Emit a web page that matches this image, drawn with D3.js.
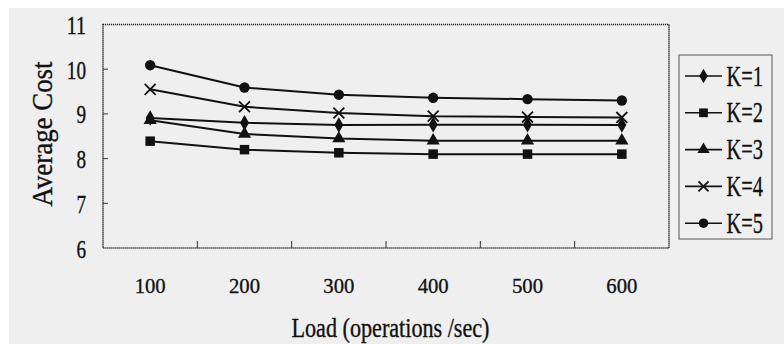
<!DOCTYPE html>
<html>
<head>
<meta charset="utf-8">
<script src="https://cdn.jsdelivr.net/npm/d3@7"></script>
<style>
html,body{margin:0;padding:0;background:#fff;}
svg{display:block;}
</style>
</head>
<body>
<svg id="chart" width="784" height="344" font-family="Liberation Serif"></svg>
<script>
const categories = ["100", "200", "300", "400", "500", "600"];
const seriesNames = ["K=1", "K=2", "K=3", "K=4", "K=5"];
const seriesMarkers = ["diamond", "square", "triangle", "cross", "circle"];
const k1 = [8.91, 8.80, 8.75, 8.76, 8.76, 8.75];
const k2 = [8.39, 8.20, 8.13, 8.10, 8.10, 8.10];
const k3 = [8.86, 8.55, 8.45, 8.40, 8.40, 8.40];
const k4 = [9.55, 9.16, 9.02, 8.95, 8.93, 8.92];
const k5 = [10.09, 9.59, 9.43, 9.36, 9.33, 9.30];
const yTicks = [6, 7, 8, 9, 10, 11];
const seriesValues = [k1, k2, k3, k4, k5];

const FONT = "Liberation Serif";
const TS = 0.35; // slight text stroke for scanned weight
const svg = d3.select("#chart");
svg.append("rect").attr("width", 784).attr("height", 344).attr("fill", "#ffffff");
svg.append("rect").attr("x", 9).attr("y", 8).attr("width", 775).attr("height", 336).attr("fill", "#efefef");

const L = 103, R = 669, T = 24.5, B = 248;
const x = d3.scaleBand().domain(categories).range([L, R]);
const y = d3.scaleLinear().domain([6, 11]).range([B, T]);

svg.append("rect").attr("x", L).attr("y", T).attr("width", R - L).attr("height", B - T)
  .attr("fill", "none").attr("stroke", "#222").attr("stroke-width", 1.6)
  .attr("stroke-dasharray", "1.2,0.8");

const xb = categories.slice(1).map(c => x(c));
svg.append("g").selectAll("line").data(xb).join("line")
  .attr("x1", d => d).attr("x2", d => d).attr("y1", B).attr("y2", B - 7)
  .attr("stroke", "#333").attr("stroke-width", 1);

svg.append("g").selectAll("text").data(categories).join("text")
  .attr("font-family", FONT)
  .attr("x", d => x(d) + x.bandwidth() / 2).attr("y", 293.3)
  .attr("text-anchor", "middle").attr("font-size", 22).attr("fill", "#111")
  .attr("stroke", "#111").attr("stroke-width", TS)
  .attr("textLength", 31).attr("lengthAdjust", "spacingAndGlyphs")
  .text(d => d);

svg.append("g").selectAll("line").data(yTicks.slice(1, -1)).join("line")
  .attr("x1", L).attr("x2", L + 5).attr("y1", d => y(d)).attr("y2", d => y(d))
  .attr("stroke", "#333").attr("stroke-width", 1);
svg.append("g").selectAll("text").data(yTicks).join("text")
  .attr("font-family", FONT)
  .attr("x", 86).attr("y", d => y(d) + 9.5)
  .attr("text-anchor", "end").attr("font-size", 25).attr("fill", "#111")
  .attr("stroke", "#111").attr("stroke-width", TS)
  .attr("textLength", d => String(d).length * 9.6).attr("lengthAdjust", "spacingAndGlyphs")
  .text(d => d);

svg.append("text").attr("font-family", FONT).attr("fill", "#111")
  .attr("stroke", "#111").attr("stroke-width", TS)
  .attr("transform", "translate(52,134) rotate(-90)")
  .attr("text-anchor", "middle").attr("font-size", 29)
  .attr("textLength", 145).attr("lengthAdjust", "spacingAndGlyphs")
  .text("Average Cost");
svg.append("text").attr("font-family", FONT).attr("fill", "#111")
  .attr("stroke", "#111").attr("stroke-width", TS)
  .attr("x", 390.5).attr("y", 336.7)
  .attr("text-anchor", "middle").attr("font-size", 27)
  .attr("textLength", 198).attr("lengthAdjust", "spacingAndGlyphs")
  .text("Load (operations /sec)");

function drawMarker(g, type, cx, cy, s) {
  const k = s || 1;
  const p = g.append("path").attr("transform", `translate(${cx},${cy})`);
  if (type === "diamond") p.attr("d", d3.symbol(d3.symbolDiamond, 70 * k)()).attr("fill", "#111");
  else if (type === "square") p.attr("d", d3.symbol(d3.symbolSquare, 90 * k)()).attr("fill", "#111");
  else if (type === "triangle") p.attr("d", d3.symbol(d3.symbolTriangle, 75 * k)()).attr("fill", "#111");
  else if (type === "cross") p.attr("d", d3.symbol(d3.symbolX, 80 * k)()).attr("fill", "none")
      .attr("stroke", "#111").attr("stroke-width", 1.8);
  else p.attr("d", d3.symbol(d3.symbolCircle, 85 * k)()).attr("fill", "#111");
}

const line = d3.line().x((d, i) => x(categories[i]) + x.bandwidth() / 2).y(d => y(d));
seriesValues.forEach((vals, si) => {
  const g = svg.append("g");
  g.append("path").attr("d", line(vals)).attr("fill", "none")
    .attr("stroke", "#111").attr("stroke-width", 2);
  vals.forEach((v, i) => drawMarker(g, seriesMarkers[si], x(categories[i]) + x.bandwidth() / 2, y(v)));
});

const lg = svg.append("g");
lg.append("rect").attr("x", 679).attr("y", 55).attr("width", 93).attr("height", 184)
  .attr("fill", "none").attr("stroke", "#555").attr("stroke-width", 1);
seriesNames.forEach((n, i) => {
  const cy = 76 + i * 36.8;
  lg.append("line").attr("x1", 685).attr("x2", 722).attr("y1", cy).attr("y2", cy)
    .attr("stroke", "#111").attr("stroke-width", 1.6);
  drawMarker(lg, seriesMarkers[i], 703.5, cy, 0.85);
  lg.append("text").attr("font-family", FONT).attr("fill", "#111")
    .attr("stroke", "#111").attr("stroke-width", TS)
    .attr("x", 726.5).attr("y", cy + 9.5).attr("font-size", 30)
    .attr("textLength", 36.5).attr("lengthAdjust", "spacingAndGlyphs").text(n);
});
</script>
</body>
</html>
